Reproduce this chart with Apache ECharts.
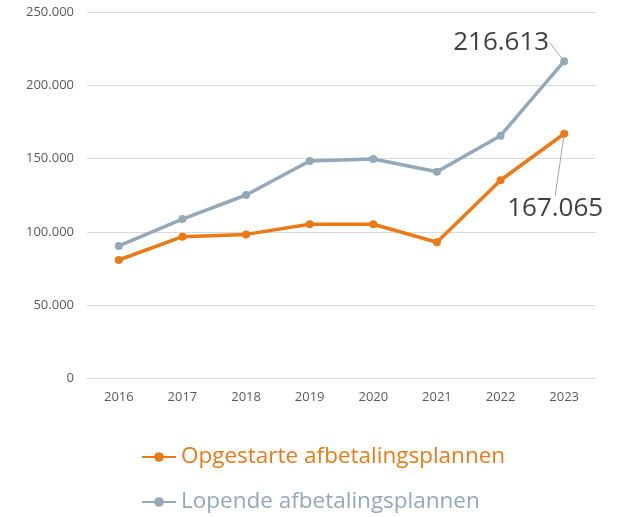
<!DOCTYPE html>
<html><head><meta charset="utf-8">
<script src="https://cdn.jsdelivr.net/npm/echarts@6/dist/echarts.min.js"></script>
<style>html,body{margin:0;padding:0;background:#fff}#c{width:636px;height:517px}</style>
</head><body><div id="c"></div>
<script>
var years = ['2016','2017','2018','2019','2020','2021','2022','2023'];
var opgestarte = [80800, 96700, 98300, 105200, 105200, 92900, 135300, 167065];
var lopende = [90400, 108800, 125200, 148400, 149800, 141100, 165700, 216613];
var seriesNames = ['Opgestarte afbetalingsplannen', 'Lopende afbetalingsplannen'];
var colors = ['#EB7A16', '#95A8B8'];

function fmt(v){ return String(Math.round(v)).replace(/\B(?=(\d{3})+(?!\d))/g,'.'); }
var FONT = '"Open Sans", "Noto Sans", sans-serif';

function withLastLabel(arr, pos, dist){
  return arr.map(function(v,i){
    if(i !== arr.length-1) return v;
    return {value:v, label:{show:true, position:pos, distance:dist, formatter:function(p){return fmt(p.value);},
      fontSize:26, fontFamily:FONT, color:'#404040'},
      labelLine:{show:true, lineStyle:{color:'#A6A6A6', width:1}}};
  });
}

var legendText = {fontSize:22.5, fontFamily:FONT, lineHeight:28};
var chart = echarts.init(document.getElementById('c'), null, {renderer:'canvas'});
chart.setOption({
  animation:false,
  color: colors,
  grid:{left:87, right:40, top:12.3, bottom:138.7, containLabel:false},
  legend:[
    {data:[{name:seriesNames[0], textStyle:{color:colors[0]}}], left:136, top:438, orient:'vertical',
     itemWidth:34, itemHeight:12, itemGap:0, textStyle:legendText},
    {data:[{name:seriesNames[1], textStyle:{color:colors[1]}}], left:136, top:483, orient:'vertical',
     itemWidth:34, itemHeight:12, itemGap:0, textStyle:legendText}
  ],
  xAxis:{type:'category', data:years, boundaryGap:true,
    axisLine:{lineStyle:{color:'#D9D9D9', width:1}}, axisTick:{show:false},
    axisLabel:{color:'#595959', fontSize:13, fontFamily:FONT, margin:12}},
  yAxis:{type:'value', min:0, max:250000, interval:50000,
    axisLine:{show:false}, axisTick:{show:false},
    splitLine:{lineStyle:{color:'#D9D9D9', width:1}},
    axisLabel:{color:'#595959', fontSize:13, fontFamily:FONT, margin:13, formatter:fmt}},
  series:[
    {name:seriesNames[0], type:'line', data:withLastLabel(opgestarte,'bottom',16),
     symbol:'circle', symbolSize:8, lineStyle:{width:3.5, color:colors[0]}, itemStyle:{color:colors[0]},
     labelLayout:function(p){ if(p.dataIndex===7) return {dx:-9, dy:42}; return {}; }},
    {name:seriesNames[1], type:'line', data:withLastLabel(lopende,'left',11),
     symbol:'circle', symbolSize:8, lineStyle:{width:3.5, color:colors[1]}, itemStyle:{color:colors[1]},
     labelLayout:function(p){ if(p.dataIndex===7) return {dx:0, dy:-19}; return {}; }}
  ]
});
</script></body></html>
